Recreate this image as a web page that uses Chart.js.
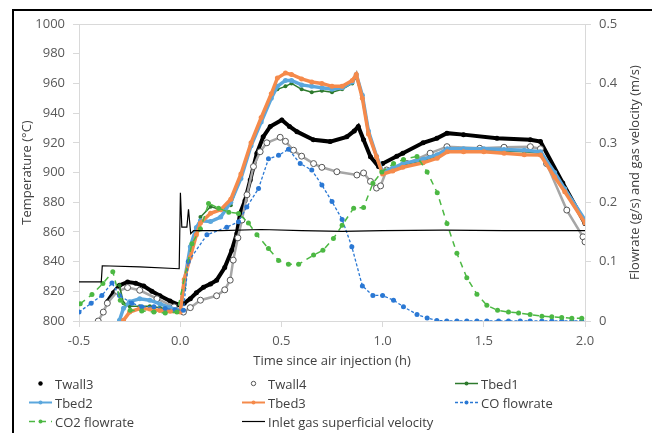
<!DOCTYPE html>
<html>
<head>
<meta charset="utf-8">
<script src="https://cdn.jsdelivr.net/npm/chart.js@4.4.1/dist/chart.umd.min.js"></script>
<style>
  body { margin: 0; background: #fff; width: 652px; height: 433px; overflow: hidden; position: relative; font-family: "Open Sans", sans-serif; }
  #frame { position: absolute; left: 12px; top: 9px; width: 660px; height: 440px; border-top: 2px solid #000; border-left: 2px solid #000; }
  #wrap { position: absolute; left: 0; top: 0; width: 652px; height: 375px; }
  #legend { position: absolute; left: 0; top: 374px; width: 652px; }
  .item { position: absolute; height: 19px; display: flex; align-items: center; font-size: 13px; color: #404040; white-space: nowrap; }
  .item canvas { margin-right: 2px; }
</style>
</head>
<body>
<div id="frame"></div>
<div id="wrap"><canvas id="chart"></canvas></div>
<div id="legend"></div>
<script>
// Temperatures (°C) and flows, time in hours since air injection

const twall3Time = [-0.36, -0.33, -0.3, -0.26, -0.22, -0.18, -0.14, -0.1, -0.05, -0.01, 0.02, 0.05, 0.08, 0.115, 0.15, 0.18, 0.22, 0.255, 0.28, 0.296, 0.32, 0.346, 0.379, 0.41, 0.445, 0.502, 0.54, 0.577, 0.658, 0.741, 0.823, 0.86, 0.88, 0.906, 0.94, 0.98, 1.0, 1.07, 1.1, 1.2, 1.268, 1.318, 1.4, 1.565, 1.73, 1.78, 1.89, 2.0]
const twall3 = [813, 819, 824, 826.3, 825.5, 823.5, 820, 817, 813.5, 811, 812, 815, 819, 822.7, 825, 827.5, 836, 847.7, 859, 872.6, 881, 895, 913, 924, 931, 935.4, 931, 927.5, 922, 920.8, 924, 928, 931, 922, 910.6, 904, 906, 911, 913, 920, 923, 926.5, 925.5, 923, 922, 920.8, 893, 865.7]

const twall4Time = [-0.405, -0.38, -0.36, -0.31, -0.26, -0.2, -0.115, -0.03, 0.016, 0.05, 0.1, 0.18, 0.22, 0.247, 0.262, 0.285, 0.305, 0.33, 0.362, 0.395, 0.428, 0.494, 0.52, 0.56, 0.6, 0.659, 0.7, 0.774, 0.873, 0.906, 0.94, 0.97, 0.99, 1.02, 1.12, 1.235, 1.318, 1.48, 1.6, 1.73, 1.78, 1.81, 1.91, 1.99, 2.0]
const twall4 = [800, 806, 812, 820, 822.5, 820.7, 815, 809.5, 806, 809, 814, 817, 821, 827.5, 841, 856, 868, 885, 904, 914, 920, 923.7, 921, 915, 911, 906, 903.5, 900.5, 898.3, 899.7, 894, 889.5, 891, 901.7, 906, 913, 917.4, 916.3, 917, 917.4, 916, 906, 874.7, 856.7, 853.3]

const bedTime = [-0.3, -0.28, -0.25, -0.2, -0.15, -0.1, -0.05, 0, 0.02, 0.05, 0.08, 0.1, 0.15, 0.2, 0.25, 0.3, 0.35, 0.4, 0.45, 0.48, 0.52, 0.55, 0.6, 0.65, 0.7, 0.75, 0.8, 0.85, 0.87, 0.9, 0.93, 0.97, 1.0, 1.05, 1.1, 1.2, 1.27, 1.32, 1.4, 1.5, 1.6, 1.7, 1.78, 1.85, 1.9, 2.0]
const tbed1 = [824, 812, 810, 810, 810, 809, 808, 806, 822, 845, 862, 870, 877, 875, 878, 897, 920, 935, 952, 956, 958, 960, 956, 954, 955, 954, 956, 960, 964, 950, 926, 910, 899.5, 902, 905, 908, 911, 915, 915, 915, 914.5, 914, 913, 899, 888, 867]
const tbed2 = [800.5, 808.6, 813, 815, 814, 811.5, 809, 807, 826, 850, 863, 867.5, 867, 870, 880, 896, 918, 934, 950, 958, 962, 962, 959, 958, 957, 956, 957, 961, 966, 952, 928, 911, 900.5, 903, 906, 909, 912, 916, 916, 916, 915.5, 915, 914, 900, 889, 868]
const tbed3 = [null, 800.5, 806, 808.4, 808, 807, 806.5, 806, 828, 843, 858, 866, 872.5, 875, 882, 899, 920, 937, 953, 963.6, 967, 966, 963, 961, 960, 958, 958, 962, 966, 950, 926, 910.6, 899, 901, 903.5, 906.5, 909.6, 914, 914, 914, 913, 912, 911.8, 897, 887, 866]

// flows (g/s) and velocity (m/s), right axis
const coTime = [-0.5, -0.44, -0.387, -0.337, -0.3, -0.239, -0.19, -0.13, -0.074, -0.025, 0.016, 0.04, 0.132, 0.23, 0.288, 0.329, 0.387, 0.436, 0.486, 0.535, 0.593, 0.65, 0.7, 0.75, 0.8, 0.848, 0.9, 0.952, 1.0, 1.054, 1.103, 1.17, 1.22, 1.268, 1.317, 1.367, 1.416, 1.466, 1.515, 1.573, 1.622, 1.68, 1.729, 1.787, 1.836, 1.885, 1.935, 1.984]
const coFlow = [0.015, 0.03, 0.043, 0.064, 0.043, 0.03, 0.024, 0.024, 0.021, 0.019, 0.018, 0.1, 0.145, 0.158, 0.167, 0.192, 0.223, 0.273, 0.279, 0.289, 0.265, 0.254, 0.229, 0.201, 0.171, 0.125, 0.059, 0.043, 0.043, 0.035, 0.024, 0.011, 0.005, 0.001, 0, 0, 0, 0, 0, 0, 0, 0, 0, 0, 0, 0, 0, 0]

const co2Time = [-0.494, -0.436, -0.382, -0.333, -0.296, -0.247, -0.19, -0.13, -0.074, -0.016, 0.058, 0.1, 0.14, 0.19, 0.24, 0.288, 0.337, 0.379, 0.436, 0.486, 0.535, 0.585, 0.659, 0.705, 0.757, 0.8, 0.857, 0.906, 0.952, 0.996, 1.054, 1.103, 1.17, 1.22, 1.27, 1.318, 1.367, 1.416, 1.466, 1.515, 1.568, 1.622, 1.672, 1.729, 1.787, 1.836, 1.885, 1.935, 1.984]
const co2Flow = [0.029, 0.0445, 0.063, 0.083, 0.035, 0.018, 0.017, 0.015, 0.0135, 0.015, 0.13, 0.155, 0.198, 0.19, 0.183, 0.181, 0.165, 0.145, 0.122, 0.102, 0.0955, 0.0955, 0.111, 0.119, 0.139, 0.161, 0.19, 0.191, 0.232, 0.251, 0.265, 0.272, 0.277, 0.251, 0.216, 0.164, 0.114, 0.073, 0.045, 0.0265, 0.018, 0.015, 0.0135, 0.011, 0.008, 0.007, 0.006, 0.0045, 0.0045]

const inletTime = [-0.5, -0.39, -0.385, -0.2, -0.005, 0.001, 0.008, 0.033, 0.041, 0.052, 0.066, 0.2, 0.4, 0.6, 0.8, 1.0, 1.3, 1.6, 2.0]
const inletVel = [0.066, 0.066, 0.093, 0.091, 0.088, 0.216, 0.158, 0.158, 0.188, 0.147, 0.152, 0.152, 0.154, 0.152, 0.151, 0.152, 0.153, 0.152, 0.152]

const xTicks = [-0.5, 0, 0.5, 1.0, 1.5, 2.0]

const axisGrey = "#d9d9d9"
const textGrey = "#595959"
const rightTitle = "Flowrate (g/s) and gas velocity (m/s)"

function points(times, values) {
  return times.map((t, i) => ({ x: t, y: values[i] }))
}

const datasets = [
  {
    label: "Twall3", data: points(twall3Time, twall3), yAxisID: "y",
    borderColor: "#000", backgroundColor: "#000", borderWidth: 4,
    pointRadius: 2.5, pointBorderWidth: 0, legendLine: false,
  },
  {
    label: "Twall4", data: points(twall4Time, twall4), yAxisID: "y",
    borderColor: "#a6a6a6", backgroundColor: "#fff", borderWidth: 2.5,
    pointRadius: 3, pointBorderColor: "#555", pointBorderWidth: 1, legendLine: false,
  },
  {
    label: "Tbed1", data: points(bedTime, tbed1), yAxisID: "y",
    borderColor: "#2d7a2d", backgroundColor: "#2d7a2d", borderWidth: 1.5,
    pointRadius: 2, pointBorderWidth: 0,
  },
  {
    label: "Tbed2", data: points(bedTime, tbed2), yAxisID: "y",
    borderColor: "#5ba7dd", backgroundColor: "#5ba7dd", borderWidth: 3.5,
    pointRadius: 2.5, pointBorderWidth: 0,
  },
  {
    label: "Tbed3", data: points(bedTime, tbed3), yAxisID: "y",
    borderColor: "#f58a4b", backgroundColor: "#f58a4b", borderWidth: 3.5,
    pointRadius: 2.5, pointBorderWidth: 0,
  },
  {
    label: "CO flowrate", data: points(coTime, coFlow), yAxisID: "y1",
    borderColor: "#2a78d4", backgroundColor: "#2a78d4", borderWidth: 1.3, borderDash: [3, 2],
    pointRadius: 2.5, pointBorderWidth: 0,
  },
  {
    label: "CO2 flowrate", data: points(co2Time, co2Flow), yAxisID: "y1",
    borderColor: "#4cb843", backgroundColor: "#4cb843", borderWidth: 1.5, borderDash: [6, 5],
    pointRadius: 2.5, pointBorderWidth: 0,
  },
  {
    label: "Inlet gas superficial velocity", data: points(inletTime, inletVel), yAxisID: "y1",
    borderColor: "#000", backgroundColor: "#000", borderWidth: 1.2,
    pointRadius: 0, noMarker: true,
  },
]

// Excel draws later series on top
datasets.forEach((ds, i) => {
  ds.order = 10 - i
  ds.tension = 0
  ds.spanGaps = true
  ds.pointHoverRadius = ds.pointRadius
})

const tickFont = { family: "Open Sans", size: 13 }

// right axis title reads bottom-to-top, like the spreadsheet
const rightTitlePlugin = {
  id: "rightTitle",
  afterDraw(chart) {
    const { ctx, chartArea } = chart
    ctx.save()
    ctx.translate(635, (chartArea.top + chartArea.bottom) / 2)
    ctx.rotate(-Math.PI / 2)
    ctx.font = "13px 'Open Sans'"
    ctx.fillStyle = "#404040"
    ctx.textAlign = "center"
    ctx.textBaseline = "middle"
    ctx.fillText(rightTitle, 0, 0)
    ctx.restore()
  },
}

const chart = new Chart(document.getElementById("chart"), {
  type: "line",
  data: { datasets: datasets },
  plugins: [rightTitlePlugin],
  options: {
    responsive: true,
    maintainAspectRatio: false,
    animation: false,
    events: [],
    layout: { padding: { top: 24, left: 0, right: 0, bottom: 0 } },
    plugins: {
      legend: { display: false },
      tooltip: { enabled: false },
    },
    scales: {
      x: {
        type: "linear",
        min: -0.5,
        max: 2.0,
        afterBuildTicks: (scale) => {
          scale.ticks = xTicks.map((v) => ({ value: v }))
        },
        afterFit: (scale) => { scale.height = 54 },
        ticks: {
          font: tickFont, color: textGrey, padding: 6, maxRotation: 0,
          callback: (v) => Number(v).toFixed(1),
        },
        grid: { drawOnChartArea: false, color: axisGrey, tickColor: axisGrey, tickLength: 6 },
        border: { color: axisGrey, width: 1 },
        title: {
          display: true, text: "Time since air injection (h)", color: "#404040",
          font: { family: "Open Sans", size: 13 }, padding: { top: 0, bottom: 6 },
        },
      },
      y: {
        position: "left",
        min: 800,
        max: 1000,
        ticks: { stepSize: 20, font: tickFont, color: textGrey, padding: 8, callback: (v) => String(v) },
        afterFit: (scale) => { scale.width = 79 },
        grid: {
          color: (ctx) => (ctx.tick && ctx.tick.value === 1000 ? axisGrey : "rgba(0,0,0,0)"),
          tickColor: axisGrey, tickLength: 6,
        },
        border: { color: axisGrey, width: 1 },
        title: {
          display: true, text: "Temperature (°C)", color: "#404040",
          font: { family: "Open Sans", size: 13 }, padding: 19,
        },
      },
      y1: {
        position: "right",
        min: 0,
        max: 0.5,
        ticks: { stepSize: 0.1, font: tickFont, color: textGrey, padding: 8 },
        afterFit: (scale) => { scale.width = 67 },
        grid: { drawOnChartArea: false, color: axisGrey, tickColor: axisGrey, tickLength: 6 },
        border: { color: axisGrey, width: 1 },
      },
    },
  },
})

// Legend laid out in three fixed columns like the spreadsheet legend
function buildLegend() {
  const box = document.getElementById("legend")
  chart.data.datasets.forEach((ds, i) => {
    const col = i % 3
    const row = Math.floor(i / 3)
    const item = document.createElement("div")
    item.className = "item"
    item.style.left = 28 + col * 213 + "px"
    item.style.top = row * 19 + "px"

    const c = document.createElement("canvas")
    c.width = 25
    c.height = 19
    const g = c.getContext("2d")
    if (ds.legendLine !== false) {
      g.strokeStyle = ds.borderColor
      g.lineWidth = Math.min(ds.borderWidth, 2)
      g.setLineDash(ds.borderDash || [])
      g.beginPath()
      g.moveTo(1, 9.5)
      g.lineTo(24, 9.5)
      g.stroke()
    }
    if (!ds.noMarker) {
      g.setLineDash([])
      g.beginPath()
      g.arc(12.5, 9.5, ds.legendLine === false ? 2.2 : 2, 0, Math.PI * 2)
      g.fillStyle = ds.backgroundColor
      g.fill()
      if (ds.pointBorderWidth) {
        g.lineWidth = 1
        g.strokeStyle = ds.pointBorderColor
        g.stroke()
      }
    }
    item.appendChild(c)

    const span = document.createElement("span")
    span.textContent = ds.label
    item.appendChild(span)
    box.appendChild(item)
  })
}

buildLegend()
</script>
</body>
</html>
